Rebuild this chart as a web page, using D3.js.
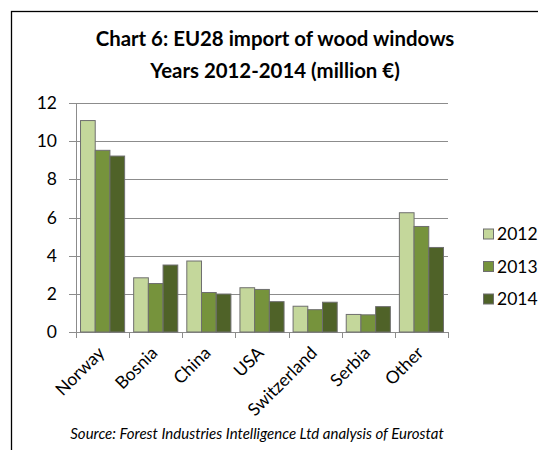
<!DOCTYPE html>
<html>
<head>
<meta charset="utf-8">
<script src="https://cdn.jsdelivr.net/npm/d3@7"></script>
<style>
  body { margin: 0; background: #fff; }
  svg { display: block; font-family: Lato, "Open Sans", sans-serif; }
</style>
</head>
<body>
<div id="chart"></div>
<script>
const categories = ["Norway", "Bosnia", "China", "USA", "Switzerland", "Serbia", "Other"];
const years = ["2012", "2013", "2014"];
const v2012 = [11.08, 2.84, 3.72, 2.32, 1.35, 0.92, 6.25];
const v2013 = [9.52, 2.54, 2.07, 2.23, 1.17, 0.90, 5.53];
const v2014 = [9.22, 3.51, 1.99, 1.59, 1.56, 1.33, 4.43];
const yTicks = [0, 2, 4, 6, 8, 10, 12];
const colors = ["#c4d79b", "#76933c", "#4f6228"];

const series = [v2012, v2013, v2014];
const svgWidth = 538, svgHeight = 450;
const plot = { left: 76, right: 448, top: 103, bottom: 332 };

const svg = d3.select("#chart").append("svg")
  .attr("width", svgWidth)
  .attr("height", svgHeight);

// frame
svg.append("rect")
  .attr("x", 11.5).attr("y", 11.5)
  .attr("width", 560).attr("height", 470)
  .attr("fill", "none").attr("stroke", "#000").attr("stroke-width", 1.3);

// title
const title = svg.append("text")
  .attr("text-anchor", "middle")
  .attr("font-weight", "bold")
  .attr("font-size", 20.4)
  .attr("fill", "#000");
title.append("tspan").attr("x", 275).attr("y", 46).text("Chart 6: EU28 import of wood windows");
title.append("tspan").attr("x", 275).attr("y", 78).text("Years 2012-2014 (million €)");

const y = d3.scaleLinear().domain([0, 12]).range([plot.bottom, plot.top]);
const x0 = d3.scaleBand().domain(categories)
  .range([plot.left, plot.right])
  .paddingInner(0.17).paddingOuter(0.085);
const x1 = d3.scaleBand().domain(years).range([0, x0.bandwidth()]);
const step = x0.step();

// gridlines
svg.append("g").selectAll("line")
  .data(yTicks)
  .enter().append("line")
  .attr("x1", plot.left - 7).attr("x2", plot.right)
  .attr("y1", d => Math.round(y(d)) + 0.5).attr("y2", d => Math.round(y(d)) + 0.5)
  .attr("stroke", "#8c8c8c").attr("stroke-width", 1);

// y axis labels
svg.append("g").selectAll("text")
  .data(yTicks)
  .enter().append("text")
  .attr("x", 57)
  .attr("y", d => y(d))
  .attr("dy", "0.35em")
  .attr("text-anchor", "end")
  .attr("font-size", 17.5)
  .text(d => d);

// y axis line
svg.append("line")
  .attr("x1", plot.left + 0.5).attr("x2", plot.left + 0.5)
  .attr("y1", plot.top).attr("y2", plot.bottom)
  .attr("stroke", "#8c8c8c");

// x axis ticks between categories
const bounds = categories.map(c => x0(c) - step * 0.085).concat([plot.right]);
svg.append("g").selectAll("line")
  .data(bounds)
  .enter().append("line")
  .attr("x1", d => Math.round(d) + 0.5).attr("x2", d => Math.round(d) + 0.5)
  .attr("y1", plot.bottom).attr("y2", plot.bottom + 6)
  .attr("stroke", "#8c8c8c");

// bars
const groups = svg.append("g").selectAll("g")
  .data(categories)
  .enter().append("g")
  .attr("transform", d => `translate(${x0(d)},0)`);

groups.selectAll("rect")
  .data((c, i) => years.map((yr, j) => ({ yr, j, value: series[j][i] })))
  .enter().append("rect")
  .attr("x", d => x1(d.yr))
  .attr("y", d => y(d.value))
  .attr("width", x1.bandwidth())
  .attr("height", d => y(0) - y(d.value))
  .attr("fill", d => colors[d.j])
  .attr("stroke", "#6f6f6f")
  .attr("stroke-width", 1);

// x labels
svg.append("g").selectAll("text")
  .data(categories)
  .enter().append("text")
  .attr("transform", d => `translate(${x0(d) + x0.bandwidth() / 2 + 3},${plot.bottom + 22}) rotate(-45)`)
  .attr("text-anchor", "end")
  .attr("font-size", 17.5)
  .text(d => d);

// legend
const legend = svg.append("g");
years.forEach((yr, i) => {
  const cy = 234 + i * 32.5;
  legend.append("rect")
    .attr("x", 483.5).attr("y", cy - 5)
    .attr("width", 10).attr("height", 10)
    .attr("fill", colors[i]).attr("stroke", "#6f6f6f");
  legend.append("text")
    .attr("x", 497).attr("y", cy)
    .attr("dy", "0.35em")
    .attr("font-size", 17.5)
    .text(yr);
});

// source
svg.append("text")
  .attr("x", 257).attr("y", 439)
  .attr("text-anchor", "middle")
  .attr("font-style", "italic")
  .attr("font-size", 15)
  .text("Source: Forest Industries Intelligence Ltd analysis of Eurostat");
</script>
</body>
</html>
